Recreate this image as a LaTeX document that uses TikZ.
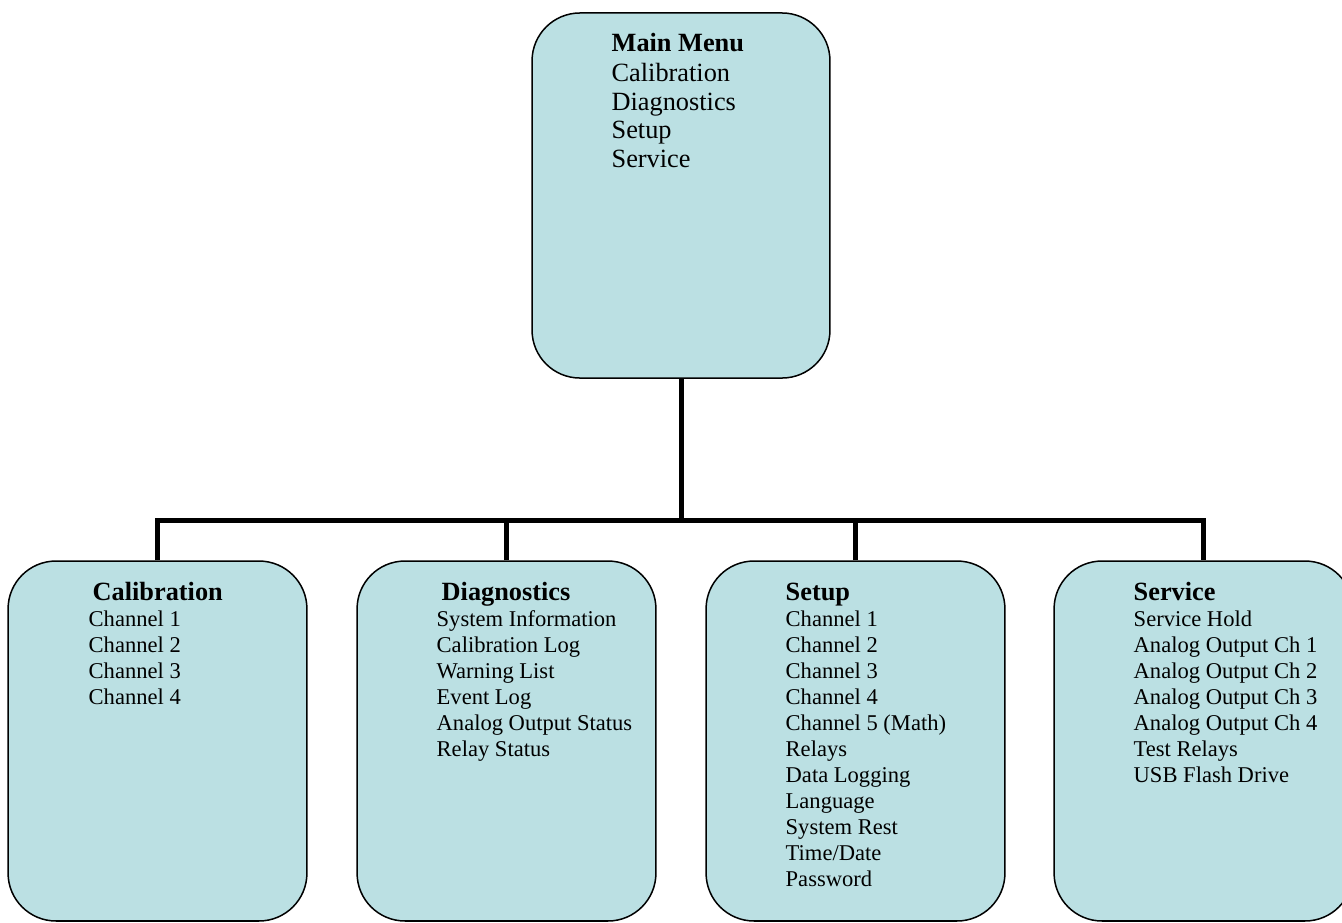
\documentclass[tikz,border=0pt]{standalone}
\usepackage{fontspec}
\setmainfont{Liberation Serif}
\usepackage{xcolor}
\definecolor{menublue}{RGB}{187,224,227}

\begin{document}
\begin{tikzpicture}[x=0.532pt,y=-0.532pt,
    menubox/.style={draw=black,line width=0.8pt,fill=menublue,rounded corners=25.5pt,
        inner sep=0pt,minimum width=159pt,minimum height=191.5pt},
    bigbox/.style={menubox,minimum width=158.5pt,minimum height=194.2pt},
    menutitle/.style={anchor=base west,inner sep=0pt,font=\fontsize{14}{16}\selectfont\bfseries},
    menuitems/.style={anchor=base west,inner sep=0pt,align=left,font=\fontsize{12}{13.83}\selectfont},
    bus/.style={line width=2.66pt,line join=miter}]
            \clip (0,0) rectangle (1342,922);

            % boxes (anchor base = last line)
            \node[bigbox] (main) at (681,195.5) {};
            \node[menuitems,font=\fontsize{14}{15.2}\selectfont] (mainT) at ([shift={(80,155)}]main.north west)
                {\textbf{Main Menu}\\[0.8pt]Calibration\\Diagnostics\\Setup\\Service};

            \node[menubox] (cal) at (157.5,741) {};
            \node[menubox] (diag) at (506.5,741) {};
            \node[menubox] (setup) at (855.5,741) {};
            \node[menubox] (serv) at (1203.5,741) {};

            \coordinate (hub) at (681,520);
            \draw[bus] (main.south) -- (hub);
            \draw[bus] (cal.north) |- (hub) -| (serv.north);
            \draw[bus] (diag.north) -- (diag.north |- hub);
            \draw[bus] (setup.north) -- (setup.north |- hub);

            \node[menutitle] (calT) at ([shift={(85,40)}]cal.north west) {Calibration};
            \node[menuitems] (calL) at ([shift={(81,144)}]cal.north west)
                {Channel 1\\Channel 2\\Channel 3\\Channel 4};

            \node[menutitle] (diagT) at ([shift={(85,40)}]diag.north west) {Diagnostics};
            \node[menuitems] (diagL) at ([shift={(80,196)}]diag.north west)
                {System Information\\Calibration Log\\Warning List\\Event Log\\Analog Output Status\\Relay Status};

            \node[menutitle] (setupT) at ([shift={(80,40)}]setup.north west) {Setup};
            \node[menuitems] (setupL) at ([shift={(80,326)}]setup.north west)
                {Channel 1\\Channel 2\\Channel 3\\Channel 4\\Channel 5 (Math)\\Relays\\Data Logging\\Language\\System Rest\\Time/Date\\Password};

            \node[menutitle] (servT) at ([shift={(80,40)}]serv.north west) {Service};
            \node[menuitems] (servL) at ([shift={(80,222)}]serv.north west)
                {Service Hold\\Analog Output Ch 1\\Analog Output Ch 2\\Analog Output Ch 3\\Analog Output Ch 4\\Test Relays\\USB Flash Drive};
        \end{tikzpicture}
\end{document}
